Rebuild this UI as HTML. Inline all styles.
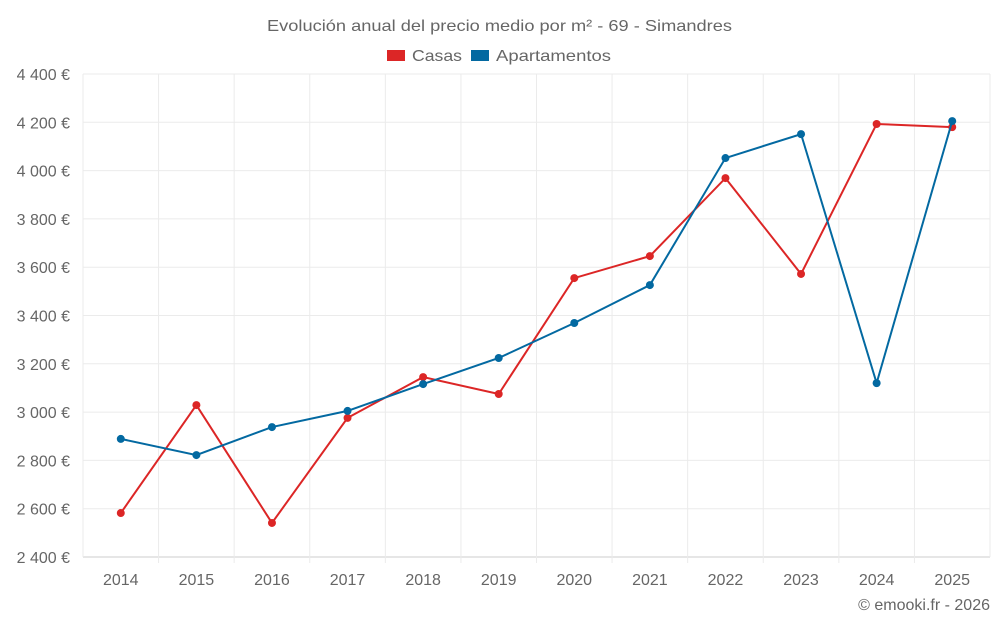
<!DOCTYPE html>
<html><head><meta charset="utf-8"><style>
body{margin:0;background:#fff;font-family:"Liberation Sans",sans-serif;}
svg text{font-family:"Liberation Sans",sans-serif;fill:#666;}
</style></head><body>
<svg id="chart" width="1000" height="625" xmlns="http://www.w3.org/2000/svg">
<text x="267" y="31" font-size="16" textLength="465" lengthAdjust="spacingAndGlyphs">Evolución anual del precio medio por m² - 69 - Simandres</text>
<g>
<rect x="387" y="50" width="18" height="11" fill="#dc2626"/>
<text x="412" y="61" font-size="16" textLength="50" lengthAdjust="spacingAndGlyphs">Casas</text>
<rect x="471" y="50" width="18" height="11" fill="#0369a1"/>
<text x="496" y="61" font-size="16" textLength="115" lengthAdjust="spacingAndGlyphs">Apartamentos</text>
</g>
<g id="grid"></g>
<g id="axes"></g>
<g id="series"></g>
<text x="990" y="610" text-anchor="end" font-size="16">© emooki.fr - 2026</text>
</svg>
<script>
const years = ["2014","2015","2016","2017","2018","2019","2020","2021","2022","2023","2024","2025"];
const casas = [2582,3029,2541,2976,3145,3075,3555,3646,3969,3572,4193,4180];
const apartamentos = [2889,2822,2938,3005,3116,3224,3369,3526,4052,4151,3120,4205];
const yTicks = [2400,2600,2800,3000,3200,3400,3600,3800,4000,4200,4400];
const L=83,R=990,T=74,B=557,yMin=2400,yMax=4400;
const ns="http://www.w3.org/2000/svg";
const step=(R-L)/years.length;
const x=i=>L+step*(i+0.5);
const y=v=>B-(v-yMin)/(yMax-yMin)*(B-T);
function mk(tag,attrs,parent){const e=document.createElementNS(ns,tag);for(const k in attrs)e.setAttribute(k,attrs[k]);parent.appendChild(e);return e;}
const grid=document.getElementById('grid'),axes=document.getElementById('axes'),series=document.getElementById('series');
const fmt=v=>String(v).replace(/\B(?=(\d{3})+(?!\d))/g," ")+" €";
yTicks.forEach(v=>{
  const l=mk('line',{x1:L,x2:R,y1:y(v),y2:y(v),stroke:v===yMin?'#ccc':'#ebebeb'},grid);
  
  
  const t=mk('text',{x:70,y:y(v)+6,'text-anchor':'end','font-size':16},axes);
  t.textContent=fmt(v);
  
  
});
for(let i=0;i<=years.length;i++){
  const gx=L+step*i;
  const l=mk('line',{x1:gx,x2:gx,y1:T,y2:B+(i===0||i===years.length?0:6),stroke:'#ebebeb'},grid);
  
  
}
years.forEach((yr,i)=>{
  const t=mk('text',{x:x(i),y:585,'text-anchor':'middle','font-size':16},axes);
  t.textContent=yr;
  
  
});
function draw(data,color,name){
  const p=mk('polyline',{points:data.map((v,i)=>x(i)+','+y(v)).join(' '),fill:'none',stroke:color,'stroke-width':2},series);
  
  
  data.forEach((v,i)=>{
    const c=mk('circle',{cx:x(i),cy:y(v),r:4,fill:color},series);
    
    
  });
}
draw(casas,'#dc2626','casas');
draw(apartamentos,'#0369a1','apartamentos');
</script>
</body></html>
